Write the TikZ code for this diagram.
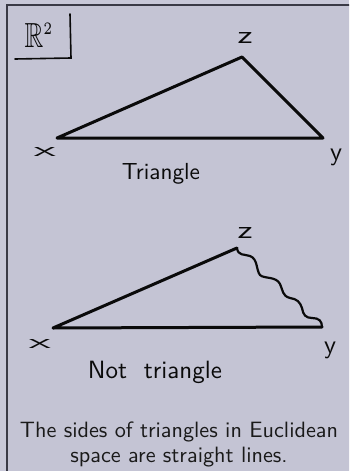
\documentclass[tikz,border=0pt]{standalone}
\usepackage{amssymb}
\usepackage{graphicx}
\usepackage{fontspec}
\usepackage{tikz}
\definecolor{outbg}{HTML}{C8C8D8}
\definecolor{inbg}{HTML}{C4C4D4}
\definecolor{frame}{HTML}{3A3A46}
\definecolor{ink}{HTML}{0A0A0A}
\definecolor{captxt}{HTML}{1A1A1A}
\begin{document}
\begin{tikzpicture}[x=1pt,y=-1pt,
  hand/.style={font=\sffamily\fontsize{10}{12}\selectfont, text=ink, inner sep=0pt},
  side/.style={line width=3pt, draw=ink, line cap=round, line join=round},
  wavy/.style={line width=2.2pt, draw=ink, line cap=round, line join=round},
  boxline/.style={line width=1.6pt, draw=ink, line cap=round},
  caption/.style={font=\sffamily\fontsize{10}{11.6}\selectfont, text=captxt, inner sep=0pt}]
\useasboundingbox (0,0) rectangle (349,471);
\clip (0,0) rectangle (349,471);
\fill[outbg] (0,0) rectangle (349,471);
\fill[inbg] (7,5) rectangle (360,480);
\draw[frame, line width=1.3pt] (7,480) -- (7,5) -- (360,5);
% R^2 box
\node[hand] (r2) at (39,35) {\resizebox{29pt}{24pt}{$\mathbb{R}^{\scriptscriptstyle 2}$}};
\coordinate (b1) at (15,59);
\coordinate (b2) at (71,58);
\coordinate (b3) at (70,14);
\draw[boxline] (b1) -- (b2) -- (b3);
% triangle 1
\coordinate (x1) at (57,138);
\coordinate (y1) at (323,138);
\coordinate (z1) at (242,57);
\draw[side] (x1) -- (y1) -- (z1) -- cycle;
\node[hand] (lz1) at (245,38) {\resizebox{15pt}{11pt}{z}};
\node[hand] (lx1) at (45,152) {\resizebox{22pt}{9pt}{x}};
\node[hand] (ly1) at (336,157) {\resizebox{12pt}{!}{y}};
\node[hand] (t1) at (161,174) {\resizebox{78pt}{!}{Triangle}};
% triangle 2
\coordinate (x2) at (53,328);
\coordinate (y2) at (322,327);
\coordinate (z2) at (237,248);
\draw[side] (y2) -- (x2) -- (z2);
\draw[wavy] (z2) .. controls (238,256) and (244,254) .. (250,256)
  .. controls (258,259) and (256,270) .. (260,275)
  .. controls (264,279) and (276,276) .. (280,284)
  .. controls (283,290) and (282,296) .. (290,298)
  .. controls (297,299) and (300,302) .. (302,308)
  .. controls (303,315) and (306,318) .. (312,318)
  .. controls (319,318) and (322,321) .. (y2);
\node[hand] (lz2) at (245,233) {\resizebox{15pt}{11pt}{z}};
\node[hand] (lx2) at (40,344) {\resizebox{22pt}{9pt}{x}};
\node[hand] (ly2) at (330,350) {\resizebox{12pt}{!}{y}};
\node[hand] (t2) at (155,372) {\resizebox{134pt}{!}{Not\ \ triangle}};
% caption
\node[caption, anchor=north] (cap) at (179,419) {\resizebox{318pt}{!}{\begin{tabular}{@{}c@{}}The sides of triangles in Euclidean\\space are straight lines.\end{tabular}}};
\end{tikzpicture}
\end{document}
